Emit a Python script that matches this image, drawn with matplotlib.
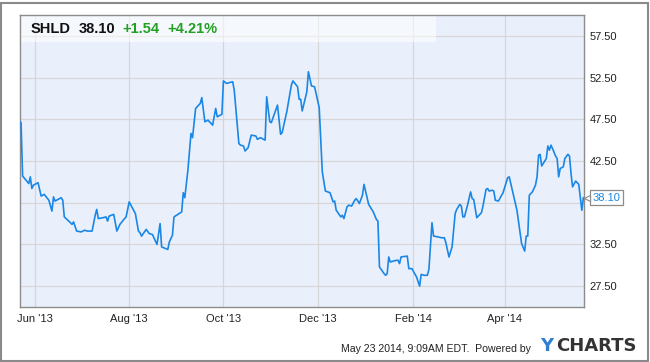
import matplotlib
matplotlib.use("Agg")
import matplotlib.pyplot as plt
import matplotlib.transforms as mtrans
import pandas as pd
from matplotlib.patches import Rectangle

plt.rcParams['font.family'] = ['Liberation Sans', 'DejaVu Sans']

# SHLD daily close (days counted from 2013-05-22)
start = pd.Timestamp('2013-05-22')
days = [0, 1, 2, 6, 7, 8, 9, 12, 14, 16, 19, 21, 22, 23, 27, 28, 29, 33, 34, 35,
        37, 40, 42, 44, 47, 49, 50, 51, 54, 56, 57, 58, 61, 62, 63, 65, 68, 69, 71, 75,
        77, 78, 79, 82, 84, 86, 89, 91, 92, 96, 97, 99, 100, 105, 106, 107, 109, 111, 112, 114,
        117, 118, 120, 122, 125, 127, 128, 131, 132, 134, 136, 138, 139, 142, 143, 145, 146, 148, 150, 153,
        154, 156, 159, 160, 162, 163, 167, 169, 170, 173, 176, 177, 180, 181, 182, 183, 186, 187, 189, 191,
        194, 196, 198, 201, 203, 204, 205, 208, 209, 210, 212, 213, 215, 217, 218, 220, 222, 223, 226, 229,
        231, 232, 233, 236, 237, 238, 239, 240, 244, 245, 246, 247, 251, 252, 254, 257, 259, 260, 262, 264,
        265, 266, 267, 268, 271, 273, 275, 276, 278, 280, 282, 283, 285, 286, 287, 288, 290, 292, 293, 294,
        296, 299, 300, 302, 303, 304, 306, 307, 308, 310, 313, 316, 317, 319, 322, 325, 327, 328, 329, 330,
        332, 334, 335, 336, 337, 338, 341, 342, 343, 344, 345, 347, 348, 349, 350, 352, 353, 355, 356, 357,
        358, 360, 362, 363, 364, 365]
prices = [47.2, 47.1, 40.7, 39.8, 40.6, 39.2, 39.6, 39.9, 38.3, 38.5, 37.8, 36.5, 38.2, 37.7, 38.1, 37.8, 35.8, 35.1, 34.9, 35.2,
          34.1, 34.0, 34.2, 34.1, 34.1, 36.0, 36.7, 35.6, 35.7, 35.8, 35.3, 35.9, 36.1, 35.1, 34.1, 34.9, 35.6, 35.8, 37.6, 36.2,
          34.1, 33.9, 33.5, 34.3, 33.8, 33.7, 32.5, 35.0, 32.2, 31.9, 32.8, 33.6, 35.8, 36.4, 38.7, 38.1, 41.4, 45.8, 45.3, 48.8,
          49.4, 50.1, 47.2, 47.4, 46.8, 48.8, 47.8, 48.1, 52.1, 51.8, 51.9, 52.0, 51.0, 44.6, 44.4, 44.3, 43.7, 44.1, 45.6, 45.5,
          45.1, 45.3, 45.0, 50.2, 47.2, 47.1, 49.2, 45.7, 45.9, 48.4, 51.6, 52.1, 51.4, 49.9, 49.9, 48.5, 50.8, 53.2, 51.5, 51.4,
          48.9, 41.2, 38.9, 38.7, 37.6, 37.7, 36.6, 35.8, 36.0, 35.6, 37.0, 37.2, 37.1, 37.8, 38.0, 37.4, 38.4, 39.7, 37.3, 36.4,
          35.5, 35.3, 29.8, 29.0, 28.8, 29.0, 31.0, 30.4, 30.6, 30.6, 30.2, 31.0, 31.1, 29.6, 29.6, 28.6, 27.5, 28.9, 28.8, 28.8,
          29.5, 32.4, 35.1, 33.5, 33.4, 33.3, 33.3, 32.7, 31.0, 32.2, 36.2, 36.7, 37.3, 37.1, 35.8, 35.8, 37.2, 38.8, 38.0, 37.9,
          35.7, 36.3, 37.1, 39.1, 39.2, 38.9, 39.0, 38.9, 37.8, 37.7, 38.7, 40.5, 40.6, 39.0, 36.6, 32.6, 31.7, 33.5, 33.5, 38.4,
          38.8, 39.6, 40.6, 43.2, 43.3, 41.9, 42.8, 44.3, 43.8, 44.4, 44.0, 43.1, 42.8, 40.6, 41.6, 41.8, 42.8, 43.3, 43.1, 41.0,
          39.4, 40.1, 39.7, 38.2, 36.6, 38.1]

dates = start + pd.to_timedelta(days, unit='D')
y_ticks = [27.5, 32.5, 37.5, 42.5, 47.5, 52.5, 57.5]
y_labels = ['27.50', '32.50', '', '42.50', '47.50', '52.50', '57.50']  # 37.50 hidden behind price tag
x_ticks = ['2013-06-01', '2013-08-01', '2013-10-01', '2013-12-01', '2014-02-01', '2014-04-01']
x_labels = ["Jun '13", "Aug '13", "Oct '13", "Dec '13", "Feb '14", "Apr '14"]

W, H = 650, 362
fig = plt.figure(figsize=(6.5, 3.62), dpi=100)
fig.patch.set_facecolor('white')

# outer frame
fig.patches.append(Rectangle((1 / W, 1.5 / H), 646.5 / W, 358 / H, transform=fig.transFigure,
                             fill=False, edgecolor='#8a8a8a', linewidth=1.5))

ax = fig.add_axes([19.5 / W, 1 - 307 / H, 564.5 / W, 292 / H])
ax.set_facecolor('#eaf0fb')

ax.plot(dates, prices, color='#1a87e6', linewidth=1.2, zorder=4)

ax.set_xlim(start, start + pd.Timedelta(days=365.4))
ax.set_ylim(25, 60)

ax.set_yticks(y_ticks)
ax.set_yticklabels(y_labels)
ax.yaxis.tick_right()
ax.set_xticks(pd.to_datetime(x_ticks))
ax.set_xticklabels(x_labels)
ax.tick_params(length=0, labelsize=8, labelcolor='#222222')
ax.tick_params(axis='y', pad=4)
ax.tick_params(axis='x', pad=5)

ax.grid(True, color='#d6d6d6', linewidth=0.9)
ax.set_axisbelow(True)
for s in ax.spines.values():
    s.set_color('#8c8c8c')
    s.set_linewidth(1.0)

# header band
ax.add_patch(Rectangle((0, (307 - 42) / 292), (436 - 19.5) / 564.5, 1 - (307 - 42) / 292,
                       transform=ax.transAxes, facecolor='white', alpha=0.55,
                       edgecolor='none', zorder=2))

hy = 1 - 29 / H
fig.text(30.5 / W, hy, 'SHLD', fontsize=10.5, fontweight='bold', color='#111111', va='center')
fig.text(79 / W, hy, '38.10', fontsize=10.5, fontweight='bold', color='#111111', va='center')
fig.text(122.5 / W, hy, '+1.54', fontsize=10.5, fontweight='bold', color='#22a022', va='center')
fig.text(167.5 / W, hy, '+4.21%', fontsize=10.5, fontweight='bold', color='#22a022', va='center')

# last price tag
ax.annotate('%.2f' % prices[-1], xy=(dates[-1], prices[-1]), xytext=(6.5, 0),
            textcoords='offset points', va='center', ha='left', fontsize=8,
            color='#1a87e6', annotation_clip=False, zorder=6,
            bbox=dict(boxstyle='square,pad=0.25', fc='white', ec='#8c8c8c', lw=0.9))
shift = mtrans.ScaledTranslation(3.5 / 100, 0, fig.dpi_scale_trans)
ax.plot([dates[-1]], [prices[-1]], marker='<', markersize=5, mfc='white', mec='#8c8c8c',
        mew=0.8, clip_on=False, zorder=7, transform=ax.transData + shift)

fy = 1 - 349 / H
fig.text(341.5 / W, fy, 'May 23 2014, 9:09AM EDT.  Powered by', fontsize=7.6, color='#222222', va='center')
fig.text(540 / W, 1 - 346 / H, 'Y', fontsize=13, fontweight='heavy', color='#2f7fd4',
         va='center', family='DejaVu Sans')
fig.text(556 / W, 1 - 346 / H, 'CHARTS', fontsize=13, fontweight='heavy', color='#333333',
         va='center', family='DejaVu Sans')

fig.savefig('out.png', dpi=100)
